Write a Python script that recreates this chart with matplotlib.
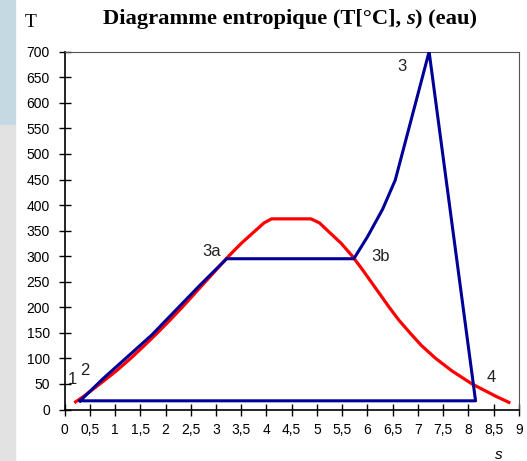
import matplotlib.pyplot as plt
from matplotlib.patches import Rectangle

# courbe de saturation (liquide puis vapeur)
s_sat = [0.22, 0.37, 0.70, 1.02, 1.31, 1.58, 1.84, 2.09, 2.33, 2.56, 2.79, 3.02, 3.25, 3.50,
         3.78, 3.95, 4.10, 4.88, 5.05, 5.21, 5.48, 5.70, 5.89, 6.07, 6.25, 6.43, 6.62, 6.84,
         7.07, 7.35, 7.68, 8.07, 8.56, 8.80]
T_sat = [15, 25, 50, 75, 100, 125, 150, 175, 200, 225, 250, 275, 300, 325,
         350, 365, 373, 373, 365, 350, 325, 300, 275, 250, 225, 200, 175, 150,
         125, 100, 75, 50, 25, 14]

# cycle 2 - 3a - 3b - 3 - 4 - 2
s_cycle = [0.31, 0.77, 1.73, 2.68, 3.21, 5.73, 6.0, 6.3, 6.55, 7.22, 8.14, 0.31]
T_cycle = [17, 61, 146, 243, 295, 295, 338, 392, 449, 700, 17, 17]

points = ["1", "2", "3a", "3b", "3", "4"]
s_points = [0.15, 0.41, 2.91, 6.25, 6.68, 8.46]
T_points = [58, 77, 309, 299, 671, 63]

x_ticks = [i * 0.5 for i in range(19)]
x_labels = [("%g" % v).replace(".", ",") for v in x_ticks]
y_ticks = list(range(0, 701, 50))

fig = plt.figure(figsize=(5.27, 4.61), dpi=100)
fig.patches.append(Rectangle((0, 0.729), 0.0285, 0.271, transform=fig.transFigure,
                             color="#c5d9e3", zorder=0))
fig.patches.append(Rectangle((0, 0), 0.0285, 0.729, transform=fig.transFigure,
                             color="#e2e2e2", zorder=0))

ax = fig.add_axes([0.1224, 0.1117, 0.8624, 0.7761])
ax.plot(s_sat, T_sat, color="#ff0000", lw=2.3, zorder=2)
ax.plot(s_cycle, T_cycle, color="#000099", lw=2.2, zorder=3)

for nom, s, T in zip(points, s_points, T_points):
    ax.text(s, T, nom, ha="center", va="center", fontsize=12, family="Liberation Sans",
            color="#222222")

ax.set_xlim(0, 9)
ax.set_ylim(0, 700)
ax.set_xticks(x_ticks)
ax.set_xticklabels(x_labels)
ax.set_yticks(y_ticks)
ax.tick_params(direction="inout", length=9, width=1, labelsize=10, color="black")
ax.tick_params(axis="x", pad=5)
ax.tick_params(axis="y", pad=6)
for lab in ax.get_xticklabels() + ax.get_yticklabels():
    lab.set_family("Liberation Sans")

ax.spines["left"].set_linewidth(1.2)
ax.spines["bottom"].set_linewidth(1.2)
ax.spines["top"].set_color("#555555")
ax.spines["right"].set_color("#555555")

fig.text(0.059, 0.952, "T", fontsize=14, family="Liberation Serif", ha="center", va="center")
fig.text(0.947, 0.014, "s", fontsize=11, family="Liberation Sans", style="italic",
         ha="center", va="center")

# titre en trois morceaux pour avoir le s en gras italique
fig.canvas.draw()
r = fig.canvas.get_renderer()
y_t = 0.958
parts = [("Diagramme entropique (T[°C], ", "normal"), ("s", "italic"), (") (eau)", "normal")]
widths = []
for txt, st in parts:
    t = fig.text(0, y_t, txt, fontsize=16.2, family="Liberation Serif", weight="bold", style=st)
    widths.append(t.get_window_extent(r).width / fig.bbox.width)
    t.remove()
x0 = 0.55 - sum(widths) / 2
for (txt, st), w in zip(parts, widths):
    fig.text(x0, y_t, txt, fontsize=16.2, family="Liberation Serif", weight="bold", style=st,
             va="center")
    x0 += w

plt.savefig("out.png", dpi=100)
